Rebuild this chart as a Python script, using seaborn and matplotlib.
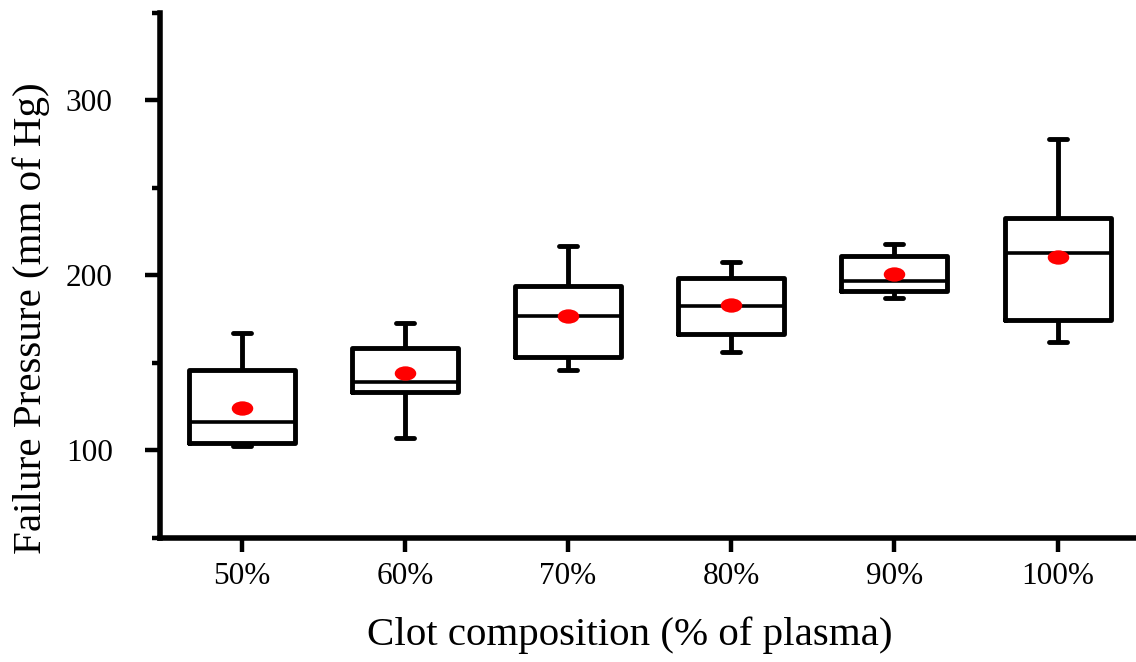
import numpy as np
import pandas as pd
import matplotlib
matplotlib.use("Agg")
import matplotlib.pyplot as plt
from matplotlib.path import Path
from matplotlib.transforms import Affine2D
from matplotlib.ticker import FixedLocator
import seaborn as sns

# ---- data ----
categories = ['50%', '60%', '70%', '80%', '90%', '100%']
whisker_low = [102.5, 107.0, 146.0, 156.0, 187.0, 162.0]
q1 = [104.0, 133.5, 153.5, 166.5, 191.0, 174.5]
median = [116.0, 139.0, 177.0, 182.5, 196.5, 213.0]
q3 = [146.0, 158.5, 194.0, 198.5, 211.0, 232.5]
whisker_high = [167.0, 173.0, 217.0, 207.5, 218.0, 278.0]
means = [124.0, 144.0, 177.0, 183.0, 201.0, 210.5]

y_major = [100, 200, 300]
y_minor = [50, 150, 250, 350]

# long-form table: five values per group reproduce the five-number summary
rows = []
for c, a, b, m, d, e in zip(categories, whisker_low, q1, median, q3, whisker_high):
    for v in (a, b, m, d, e):
        rows.append({"comp": c, "pressure": v})
df = pd.DataFrame(rows)
df_mean = pd.DataFrame({"comp": categories, "pressure": means})

sns.set_theme(style="white")
plt.rcParams['font.family'] = ['Liberation Serif', 'DejaVu Serif']

fig = plt.figure(figsize=(11.36, 6.62), dpi=100)
ax = fig.add_axes([160/1136, 1 - 538/662, 1 - 160/1136, (538 - 12.7)/662])

lw = 3.5
sns.boxplot(data=df, x="comp", y="pressure", order=categories, ax=ax,
            whis=(0, 100), width=0.65, fill=False, color="black",
            linewidth=lw,
            medianprops=dict(color="black", linewidth=2.6),
            boxprops=dict(color="black", linewidth=lw),
            whiskerprops=dict(color="black", linewidth=lw),
            capprops=dict(color="black", linewidth=lw),
            capwidths=0.11, showfliers=False)

ell = Path.unit_circle().transformed(Affine2D().scale(1.5, 1.0))
sns.stripplot(data=df_mean, x="comp", y="pressure", order=categories, ax=ax,
              jitter=False, color="#ff0000", marker=ell, size=15.5,
              linewidth=0, zorder=5)

ax.set_ylim(50, 350)
ax.set_xlim(-0.5, 5.48)
ax.yaxis.set_major_locator(FixedLocator(y_major))
ax.yaxis.set_minor_locator(FixedLocator(y_minor))
ax.set_yticklabels([str(v) for v in y_major])

for side in ("top", "right"):
    ax.spines[side].set_visible(False)
for side in ("left", "bottom"):
    ax.spines[side].set_linewidth(4.0)
    ax.spines[side].set_color("black")

ax.tick_params(axis="y", which="major", direction="out", length=11, width=3.2,
               labelsize=22.5, pad=23, left=True, color="black", labelcolor="black")
ax.tick_params(axis="y", which="minor", direction="out", length=6, width=3.2,
               left=True, color="black")
ax.tick_params(axis="x", which="major", direction="out", length=10, width=3.2,
               labelsize=22.5, pad=7, bottom=True, color="black", labelcolor="black")

ax.set_xlabel("Clot composition (% of plasma)", fontsize=29.5, color="black")
ax.set_ylabel("Failure Pressure (mm of Hg)", fontsize=29.5, color="black")
ax.xaxis.set_label_coords((630 - 160)/976, -0.150)
ax.yaxis.set_label_coords((50 - 160)/976, (538 - 318)/525.3)

ax.set_facecolor("white")
fig.patch.set_facecolor("white")
fig.savefig("out.png", dpi=100)
